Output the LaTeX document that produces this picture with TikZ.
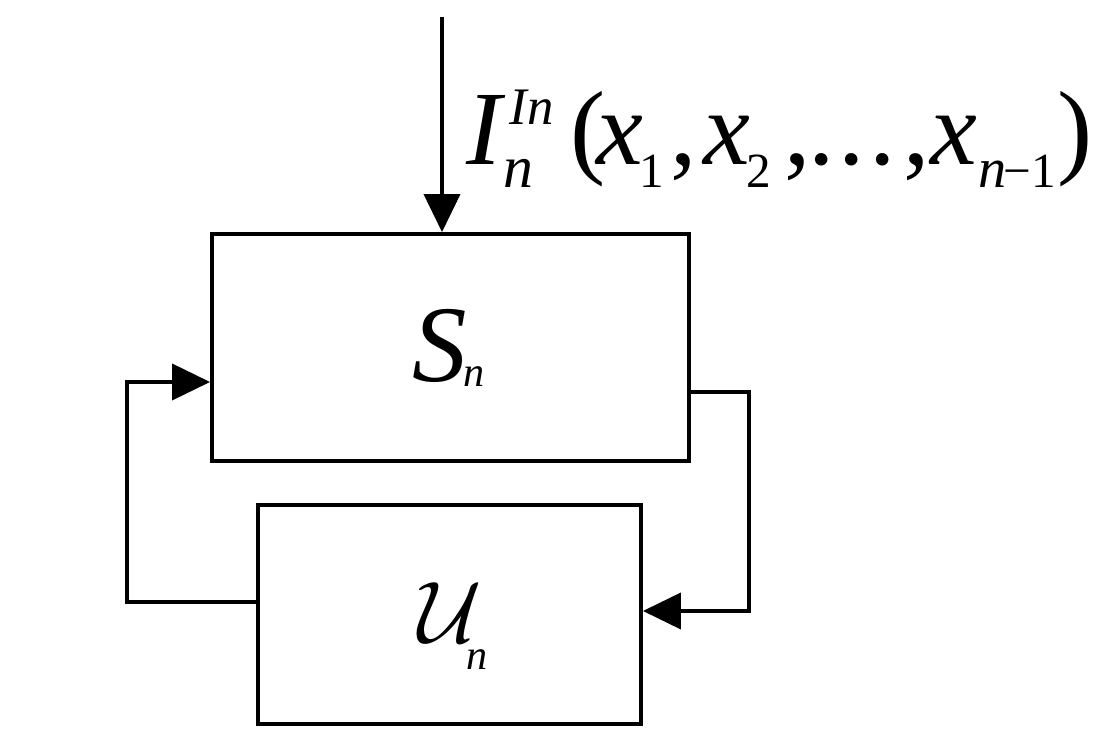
\documentclass[tikz,border=0pt]{standalone}
\usepackage[no-math]{fontspec}
\setmainfont{Liberation Serif}
\usetikzlibrary{arrows.meta}

\tikzset{
    block/.style={draw, line width=1.1pt, inner sep=0pt},
    link/.style={line width=1.1pt},
    tip/.style={-{Triangle[length=0.38cm, width=0.36cm]}}
}
% put #2 at horizontal offset #1 from the start of the label
\newcommand{\setat}[2]{\rlap{\hspace*{#1}#2}}
\newcommand{\lowidx}[2]{\raisebox{-6.3pt}{\fontsize{#1}{#1}\selectfont #2}}

\begin{document}
\begin{tikzpicture}

    \useasboundingbox (0,0) rectangle (10.96,7.33);

    % === BLOCKS ===
    \node[block, minimum width=4.77cm, minimum height=2.27cm] (S) at (4.505,3.855) {};
    \node[block, minimum width=3.83cm, minimum height=2.19cm] (U) at (4.495,1.185) {};

    % block labels
    \node[inner sep=0pt, anchor=base west] (Slbl) at (4.12,3.51)
        {\fontsize{31}{31}\selectfont\textit{S}};
    \node[inner sep=0pt, anchor=base west] (Sidx) at (4.63,3.46)
        {\fontsize{12}{12}\selectfont\textit{n}};
    \node[inner sep=0pt, anchor=base] (Ulbl) at (4.50,0.90)
        {\fontsize{24}{24}\selectfont$\mathcal{U}$};
    \node[inner sep=0pt, anchor=base west] (Uidx) at (4.66,0.63)
        {\fontsize{12}{12}\selectfont\textit{n}};

    % === INPUT ===
    \coordinate (in) at (4.42,7.16);
    \draw[link, tip] (in) -- (in |- S.north);

    \node[inner sep=0pt, anchor=base west] (inlbl) at (4.66,5.68)
        {\fontsize{30}{30}\selectfont
         \setat{0pt}{\textit{I}}%
         \setat{12.3pt}{\raisebox{11.4pt}{\fontsize{15}{15}\selectfont\textit{In}}}%
         \setat{10.5pt}{\lowidx{17}{\textit{n}}}%
         \setat{29.4pt}{(}%
         \setat{37pt}{\textit{x}}%
         \setat{49.3pt}{\lowidx{14}{1}}%
         \setat{58pt}{,}%
         \setat{67.4pt}{\textit{x}}%
         \setat{79.5pt}{\lowidx{14}{2}}%
         \setat{90.5pt}{,}%
         \setat{97.2pt}{.}\setat{105.8pt}{.}\setat{114.6pt}{.}%
         \setat{124.3pt}{,}%
         \setat{132pt}{\textit{x}}%
         \setat{145.5pt}{\lowidx{16}{\textit{n}}}%
         \setat{152.8pt}{\lowidx{14}{−1}}%
         \setat{168.2pt}{)}%
         \hspace*{178pt}};

    % === FEEDBACK LOOPS ===
    % S -> U on the right
    \coordinate (rtop) at (7.49,3.41);
    \coordinate (rbot) at (7.49,1.22);
    \draw[link, tip] (S.east |- rtop) -- (rtop) -- (rbot) -- (U.east |- rbot);

    % U -> S on the left
    \coordinate (lbot) at (1.27,1.31);
    \coordinate (ltop) at (1.27,3.51);
    \draw[link, tip] (U.west |- lbot) -- (lbot) -- (ltop) -- (S.west |- ltop);

\end{tikzpicture}
\end{document}
